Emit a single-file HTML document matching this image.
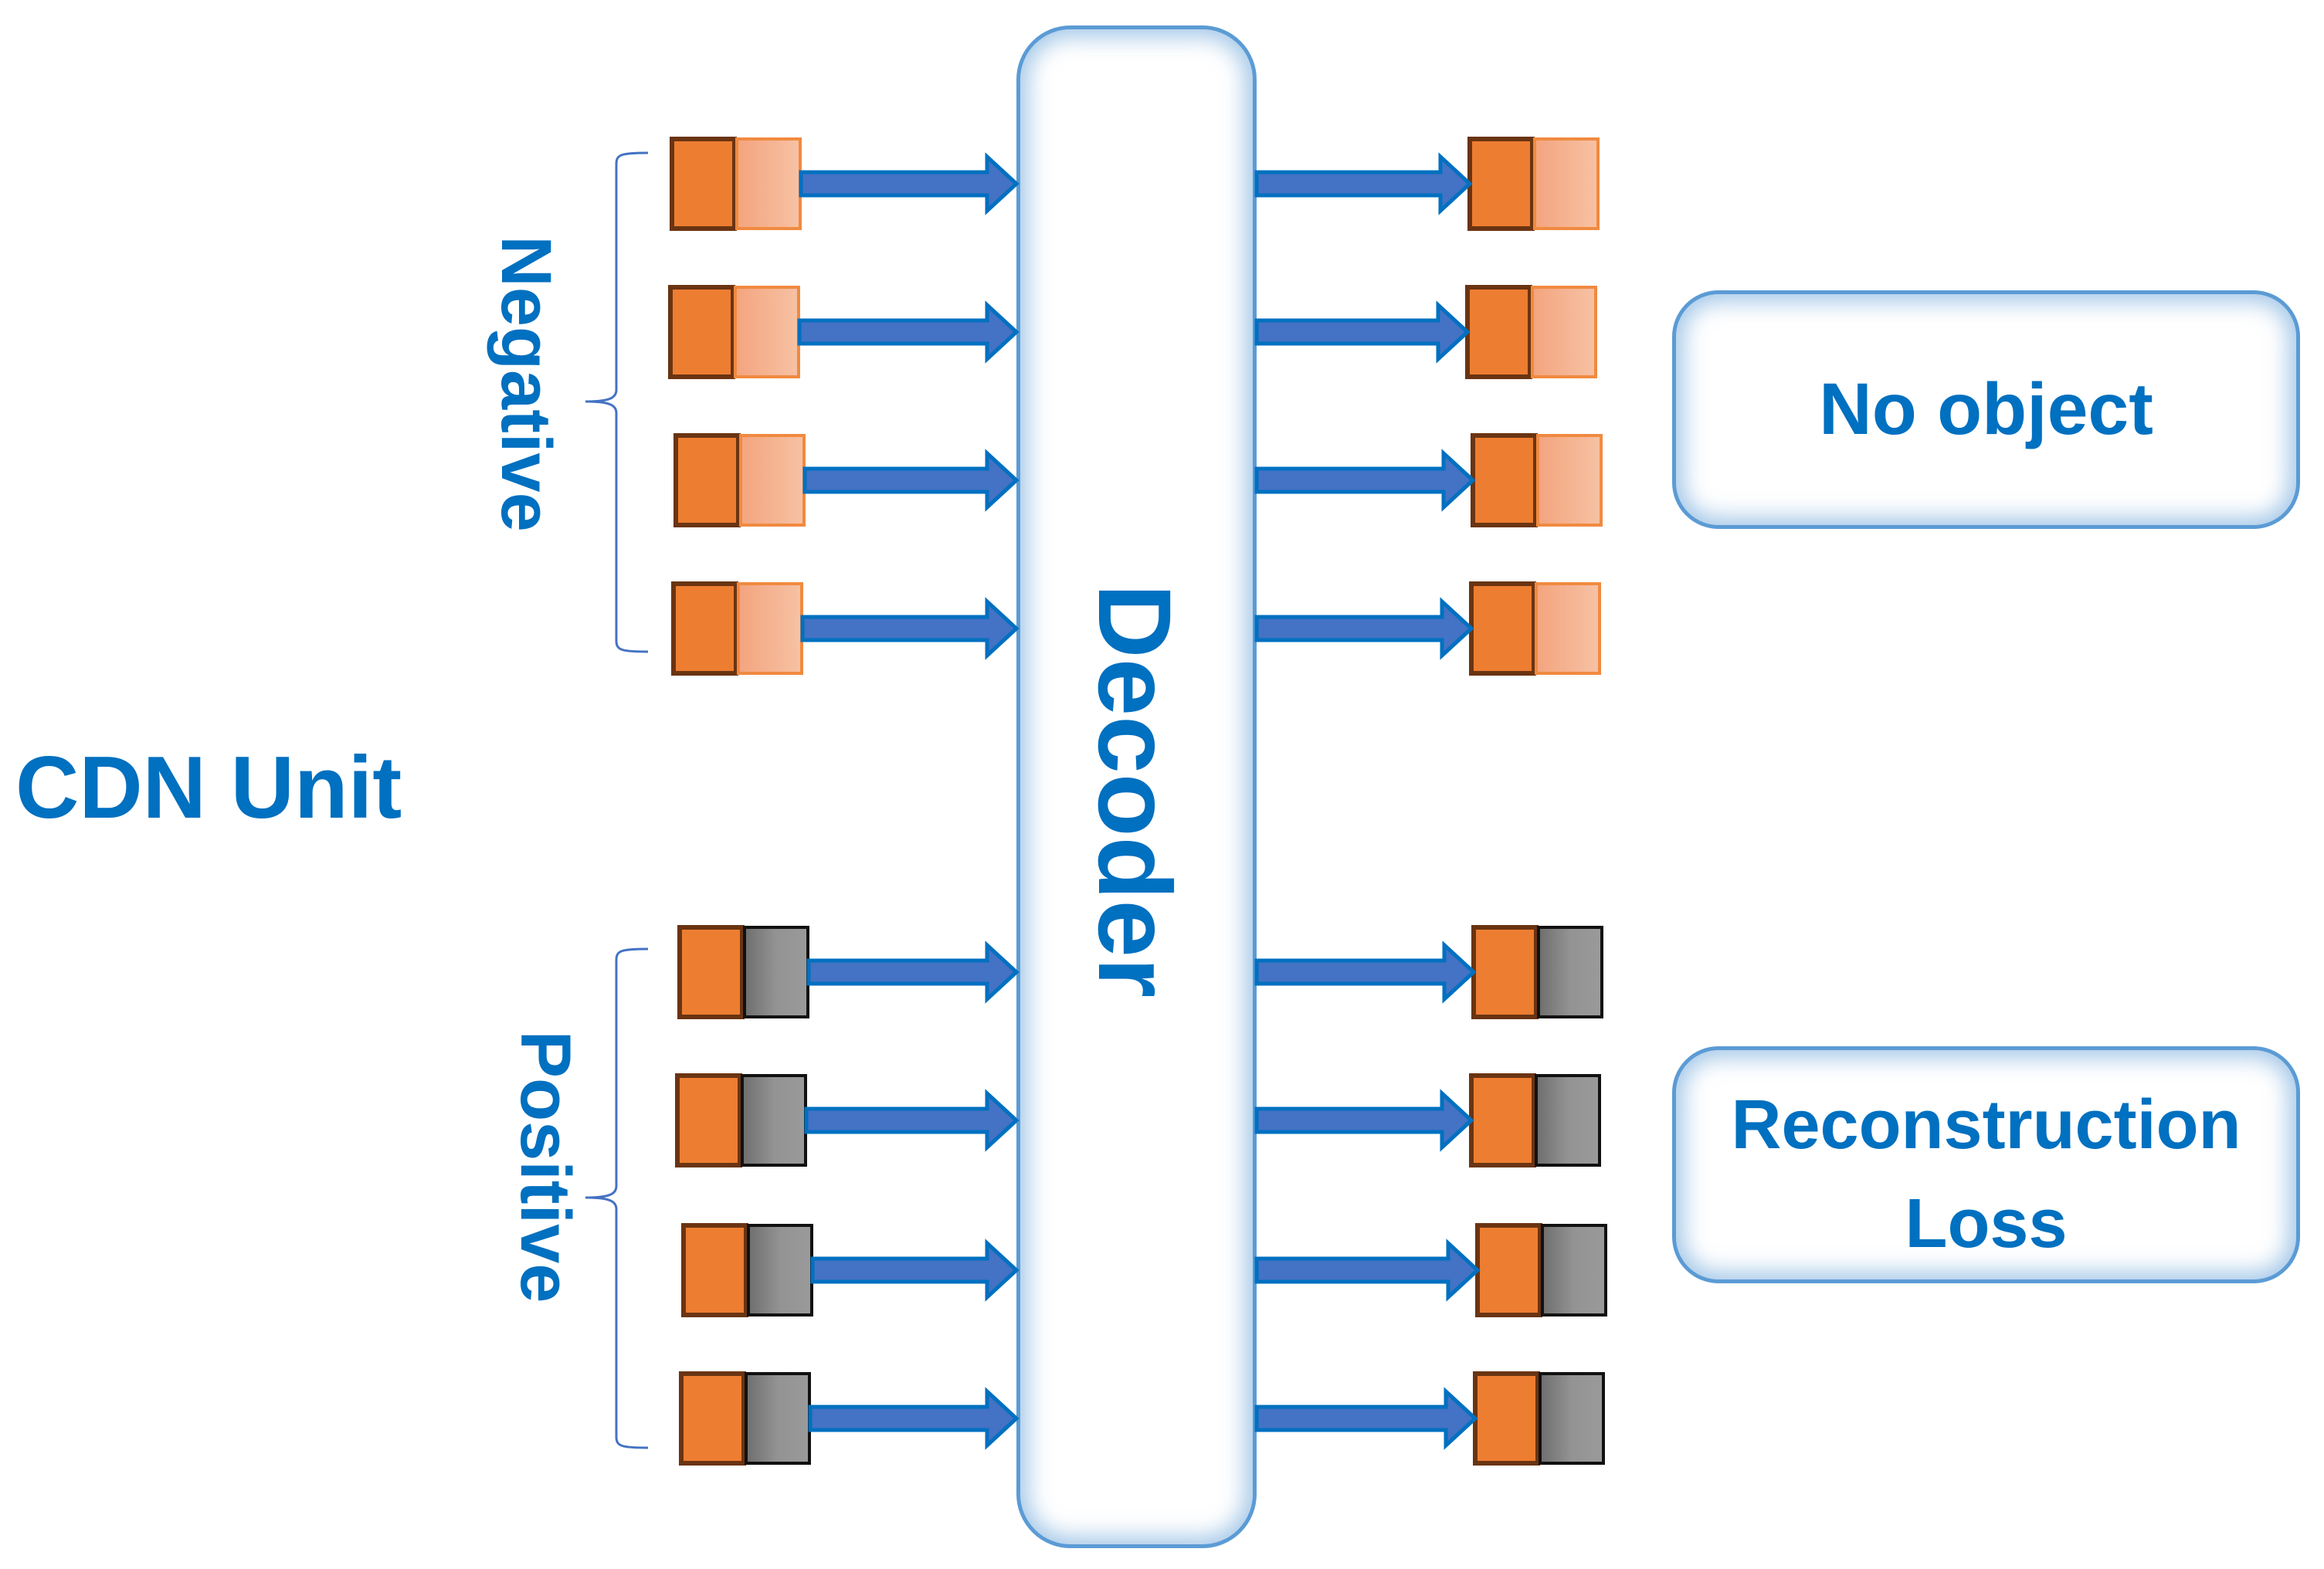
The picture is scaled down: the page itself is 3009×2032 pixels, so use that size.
<!DOCTYPE html>
<html><head><meta charset="utf-8"><style>
html,body{margin:0;padding:0;background:#fff}
#c{position:relative;width:3009px;height:2032px;overflow:hidden;font-family:"Liberation Sans",sans-serif;font-weight:bold;color:#0070c0}
.rbox{position:absolute;background:#fff;border:5px solid #5b9bd5;box-sizing:border-box;box-shadow:inset 0 0 28px 10px rgba(91,155,213,0.55)}
.t{position:absolute;white-space:nowrap;text-align:center}
</style></head><body><div id="c">
<div class="rbox" style="left:1316px;top:33px;width:311px;height:1972px;border-radius:70px"></div>
<div class="rbox" style="left:2165px;top:376px;width:813px;height:309px;border-radius:60px"></div>
<div class="rbox" style="left:2165px;top:1355px;width:813px;height:307px;border-radius:60px"></div>
<svg width="3009" height="2032" style="position:absolute;left:0;top:0">
<defs>
<linearGradient id="lo" x1="0" x2="1"><stop offset="0" stop-color="#f4a47e"/><stop offset="1" stop-color="#f6c2a4"/></linearGradient>
<linearGradient id="gr" x1="0" x2="1"><stop offset="0" stop-color="#6e6e6e"/><stop offset="0.5" stop-color="#939393"/><stop offset="1" stop-color="#9a9a9a"/></linearGradient>
</defs>
<g id="rows"></g>
<path d="M839,198 C805,198 798,200 798,212 L798,505 C798,515 790,520 758,520 C790,520 798,525 798,535 L798,830 C798,842 805,844 839,844" fill="none" stroke="#4472c4" stroke-width="3"/>
<path d="M839,1229 C805,1229 798,1231 798,1243 L798,1536 C798,1546 790,1551 758,1551 C790,1551 798,1556 798,1566 L798,1861 C798,1873 805,1875 839,1875" fill="none" stroke="#4472c4" stroke-width="3"/>
</svg>
<div class="t" style="left:20px;top:955px;font-size:114px">CDN Unit</div>
<div class="t" style="left:2165px;top:476px;width:813px;font-size:95px">No object</div>
<div class="t" style="left:2165px;top:1393px;width:813px;font-size:90px;line-height:128px">Reconstruction<br>Loss</div>
<div class="t" style="left:481px;top:447px;width:400px;font-size:92px;line-height:100px;transform:rotate(90deg)">Negative</div>
<div class="t" style="left:506px;top:1461px;width:400px;font-size:92px;line-height:100px;transform:rotate(90deg)">Positive</div>
<div class="t" style="left:1168px;top:954px;width:600px;font-size:134px;line-height:140px;transform:rotate(90deg)">Decoder</div>
<script>
var rows=[[238,867,1900,0],[430,865,1897,0],[622,872,1904,0],[814,869,1902,0],[1259,877,1905,1],[1451,874,1902,1],[1645,882,1910,1],[1837,879,1907,1]];
var s='';
rows.forEach(function(r){
 var y=r[0],lx=r[1],rx=r[2],pos=r[3];
 function unit(x){
  var o='<rect x="'+(x+3)+'" y="'+(y-58)+'" width="81" height="116" fill="#ed7d31" stroke="#6a3412" stroke-width="6"/>';
  if(pos) o+='<rect x="'+(x+87)+'" y="'+(y-58)+'" width="82" height="116" fill="url(#gr)" stroke="#111" stroke-width="4"/>';
  else o+='<rect x="'+(x+87)+'" y="'+(y-58)+'" width="82" height="116" fill="url(#lo)" stroke="#f08a40" stroke-width="4"/>';
  return o;}
 s+=unit(lx)+unit(rx);
 var ls=lx+170, le=1316;
 s+='<polygon points="'+ls+','+(y-15)+' '+(le-38)+','+(y-15)+' '+(le-38)+','+(y-35)+' '+le+','+y+' '+(le-38)+','+(y+35)+' '+(le-38)+','+(y+15)+' '+ls+','+(y+15)+'" fill="#4472c4" stroke="#0070c0" stroke-width="5"/>';
 var rs=1627, re=rx+3;
 s+='<polygon points="'+rs+','+(y-15)+' '+(re-38)+','+(y-15)+' '+(re-38)+','+(y-35)+' '+re+','+y+' '+(re-38)+','+(y+35)+' '+(re-38)+','+(y+15)+' '+rs+','+(y+15)+'" fill="#4472c4" stroke="#0070c0" stroke-width="5"/>';
});
document.getElementById('rows').innerHTML=s;
</script>
</div></body></html>
